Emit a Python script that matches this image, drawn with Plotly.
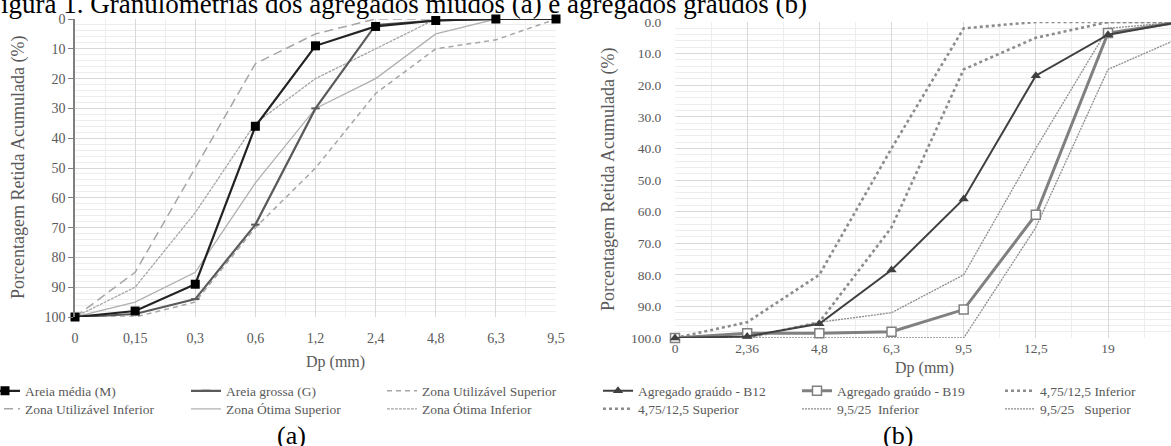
import plotly.graph_objects as go

W, H = 1171, 446

# ---- fine aggregates (a) ----
fine_sieves = ["0", "0,15", "0,3", "0,6", "1,2", "2,4", "4,8", "6,3", "9,5"]
areia_media = [100, 98, 89, 36, 9, 2.5, 0.5, 0, 0]
areia_grossa = [100, 99, 94, 69, 30, 2, 0.5, 0, 0]
zona_util_sup = [100, 100, 95, 70, 50, 25, 10, 7, 0]
zona_util_inf = [100, 85, 50, 15, 5, 0, 0, 0, 0]
zona_otima_sup = [100, 95, 85, 55, 30, 20, 5, 0, 0]
zona_otima_inf = [100, 90, 65, 35, 20, 10, 0, 0, 0]

# ---- coarse aggregates (b) ----
coarse_sieves = ["0", "2,36", "4,8", "6,3", "9,5", "12,5", "19", "25"]
b12 = [100, 99.5, 95.5, 78.5, 56, 17, 4, 0]
b19 = [100, 98.5, 98.5, 98, 91, 61, 3.5, 0]
z475_inf = [100, 95, 80, 40, 2, 0, 0, 0]
z475_sup = [100, 100, 95, 65, 15, 5, 0, 0]
z95_inf = [100, 100, 100, 100, 100, 65, 15, 5]
z95_sup = [100, 100, 95, 92, 80, 40, 2, 0]

SERIF = "Liberation Serif"
GREY_TXT = "#595959"


def px_x(p):
    return p / W


def px_y(p):
    return 1 - p / H


fx = list(range(len(fine_sieves)))
cx = list(range(len(coarse_sieves)))

fig = go.Figure()


def add(x, y, name, xa, ya, legend, color, width, dash="solid", marker=None, lw=None):
    kw = dict(
        x=x, y=y, name=name, mode="lines+markers" if marker else "lines",
        xaxis=xa, yaxis=ya, legend=legend, cliponaxis=False,
        line=dict(color=color, width=width, dash=dash),
    )
    if marker:
        kw["marker"] = marker
    if lw:
        kw["legendwidth"] = lw
    fig.add_trace(go.Scatter(**kw))


# (a) limits first, data on top
add(fx, zona_util_sup, "Zona Utilizável Superior", "x", "y", "legend", "#a6a6a6", 1.5, "5px,4px")
add(fx, zona_util_inf, "Zona Utilizável Inferior", "x", "y", "legend2", "#a6a6a6", 1.5, "9px,5px", lw=156)
add(fx, zona_otima_sup, "Zona Ótima Superior", "x", "y", "legend2", "#b0b0b0", 1.3, lw=151)
add(fx, zona_otima_inf, "Zona Ótima Inferior", "x", "y", "legend2", "#a6a6a6", 1.3, "3px,1px")
add(fx, areia_grossa, "Areia grossa (G)", "x", "y", "legend", "#5a5a5a", 2.2,
    marker=dict(symbol="line-ew", size=6, color="#5a5a5a", line=dict(width=2, color="#5a5a5a")), lw=151)
add(fx, areia_media, "Areia média (M)", "x", "y", "legend", "#222222", 2.2,
    marker=dict(symbol="square", size=9, color="#000000"), lw=156)

# (b)
add(cx, z475_sup, "4,75/12,5 Inferior", "x2", "y2", "legend3", "#8c8c8c", 2.6, "3px,3px")
add(cx, z475_inf, "4,75/12,5 Superior", "x2", "y2", "legend4", "#8c8c8c", 2.6, "3px,3px", lw=154)
add(cx, z95_inf, "9,5/25  Inferior", "x2", "y2", "legend4", "#8c8c8c", 1.3, "2px,1px", lw=158)
add(cx, z95_sup, "9,5/25   Superior", "x2", "y2", "legend4", "#8c8c8c", 1.3, "2px,1px")
add(cx, b19, "Agregado graúdo - B19", "x2", "y2", "legend3", "#808080", 3,
    marker=dict(symbol="square", size=9, color="#ffffff", line=dict(width=1.5, color="#808080")), lw=158)
add(cx, b12, "Agregado graúdo - B12", "x2", "y2", "legend3", "#404040", 2,
    marker=dict(symbol="triangle-up", size=9, color="#404040"), lw=154)

# legend entries are ordered explicitly per row
order_a1 = ["Areia média (M)", "Areia grossa (G)", "Zona Utilizável Superior"]
order_a2 = ["Zona Utilizável Inferior", "Zona Ótima Superior", "Zona Ótima Inferior"]
order_b1 = ["Agregado graúdo - B12", "Agregado graúdo - B19", "4,75/12,5 Inferior"]
order_b2 = ["4,75/12,5 Superior", "9,5/25  Inferior", "9,5/25   Superior"]
rank = {n: i for i, n in enumerate(order_a1 + order_a2 + order_b1 + order_b2)}
for tr in fig.data:
    tr.legendrank = rank[tr.name]

grid_major = "#d9d9d9"
grid_minor = "#ededed"

common_x = dict(
    tickmode="array", showline=False, zeroline=False,
    showgrid=True, gridcolor=grid_major, gridwidth=1,
    minor=dict(dtick=0.5, showgrid=True, gridcolor=grid_minor, gridwidth=1),
    tickfont=dict(family=SERIF, size=14, color=GREY_TXT),
)
common_y = dict(
    zeroline=False, showgrid=True, gridcolor=grid_major, gridwidth=1,
    tickmode="linear", tick0=0, dtick=10,
    minor=dict(dtick=2, showgrid=True, gridcolor=grid_minor, gridwidth=1),
)

spacing_b = (1108 - 675) / 6.0

fig.update_layout(
    width=W, height=H,
    margin=dict(l=0, r=0, t=0, b=0, autoexpand=False),
    paper_bgcolor="white", plot_bgcolor="white",
    font=dict(family=SERIF, color=GREY_TXT),
    xaxis=dict(common_x, domain=[px_x(75), px_x(556)], range=[0, 8],
               tickvals=fx, ticktext=fine_sieves, anchor="y",
               ticks="outside", ticklen=8, tickcolor="rgba(0,0,0,0)"),
    yaxis=dict(common_y, domain=[px_y(317), px_y(19)], range=[100, 0], anchor="x",
               showline=True, linecolor="#7f7f7f", linewidth=1.5,
               ticks="outside", ticklen=5, tickcolor="#7f7f7f",
               tickfont=dict(family=SERIF, size=14, color=GREY_TXT)),
    xaxis2=dict(common_x, domain=[px_x(675), 1.0], range=[0, (W - 675) / spacing_b],
                tickvals=cx, ticktext=coarse_sieves, anchor="y2",
                tickfont=dict(family=SERIF, size=13.5, color=GREY_TXT)),
    yaxis2=dict(common_y, domain=[px_y(338), px_y(22)], range=[100, 0], anchor="x2",
                tickformat=".1f", showline=False,
                ticks="outside", ticklen=10, tickcolor="rgba(0,0,0,0)",
                tickfont=dict(family=SERIF, size=13.5, color=GREY_TXT)),
    showlegend=True,
)

leg_common = dict(orientation="h", xanchor="left", yanchor="middle",
                  bgcolor="rgba(0,0,0,0)", borderwidth=0, traceorder="normal",
                  itemclick=False, font=dict(family=SERIF, size=13.5, color=GREY_TXT))
fig.update_layout(
    legend=dict(leg_common, x=px_x(-15), y=px_y(391)),
    legend2=dict(leg_common, x=px_x(-15), y=px_y(409)),
    legend3=dict(leg_common, x=px_x(598), y=px_y(391)),
    legend4=dict(leg_common, x=px_x(598), y=px_y(409)),
)

annotations = [
    dict(text="Figura 1. Granulometrias dos agregados miúdos (a) e agregados graúdos (b)",
         x=0, y=px_y(21), xref="paper", yref="paper", xanchor="left", yanchor="bottom",
         xshift=-16, showarrow=False, font=dict(family=SERIF, size=27, color="#000000")),
    dict(text="(a)", x=px_x(291), y=px_y(435), xref="paper", yref="paper",
         xanchor="center", yanchor="middle", showarrow=False,
         font=dict(family=SERIF, size=26, color="#000000")),
    dict(text="(b)", x=px_x(898), y=px_y(435), xref="paper", yref="paper",
         xanchor="center", yanchor="middle", showarrow=False,
         font=dict(family=SERIF, size=26, color="#000000")),
    dict(text="Porcentagem Retida Acumulada (%)", x=px_x(18), y=px_y(168),
         xref="paper", yref="paper", xanchor="center", yanchor="middle", textangle=-90,
         showarrow=False, font=dict(family=SERIF, size=18, color=GREY_TXT)),
    dict(text="Porcentagem Retida Acumulada (%)", x=px_x(608), y=px_y(180),
         xref="paper", yref="paper", xanchor="center", yanchor="middle", textangle=-90,
         showarrow=False, font=dict(family=SERIF, size=18, color=GREY_TXT)),
    dict(text="Dp (mm)", x=px_x(335), y=px_y(362), xref="paper", yref="paper",
         xanchor="center", yanchor="middle", showarrow=False,
         font=dict(family=SERIF, size=16, color=GREY_TXT)),
    dict(text="Dp (mm)", x=px_x(924), y=px_y(368), xref="paper", yref="paper",
         xanchor="center", yanchor="middle", showarrow=False,
         font=dict(family=SERIF, size=16, color=GREY_TXT)),
]
fig.update_layout(annotations=annotations)

fig.write_html("out.html")
